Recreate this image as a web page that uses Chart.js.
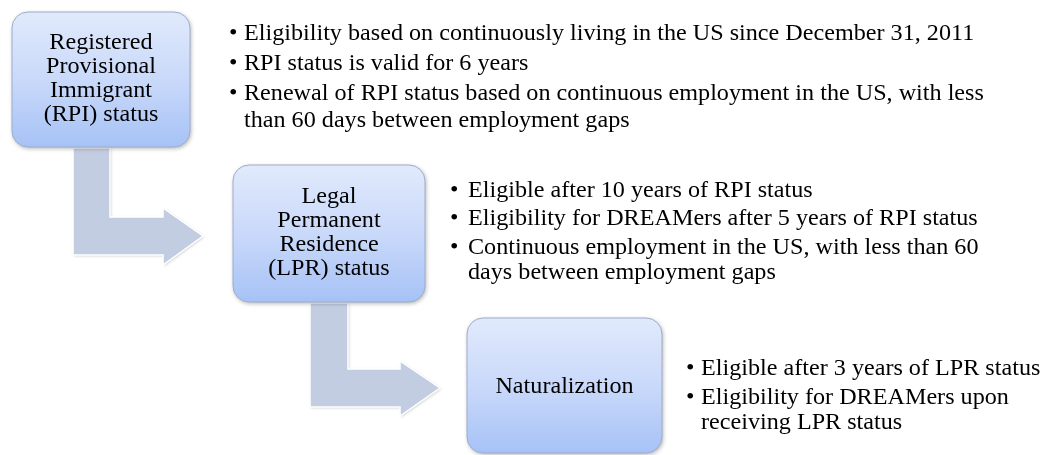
<!DOCTYPE html>
<html>
<head>
<meta charset="utf-8">
<script src="https://cdn.jsdelivr.net/npm/chart.js@4/dist/chart.umd.min.js"></script>
<style>
  html, body { margin: 0; padding: 0; background: #ffffff; }
  #wrap { width: 1047px; height: 455px; }
</style>
</head>
<body>
<div id="wrap"><canvas id="c" width="1047" height="455"></canvas></div>
<script>
// ---- Content (data) ----
const stageLabels = [
  ["Registered", "Provisional", "Immigrant", "(RPI) status"],
  ["Legal", "Permanent", "Residence", "(LPR) status"],
  ["Naturalization"]
];
const stageNotes1 = [
  ["Eligibility based on continuously living in the US since December 31, 2011"],
  ["RPI status is valid for 6 years"],
  ["Renewal of RPI status based on continuous employment in the US, with less", "than 60 days between employment gaps"]
];
const stageNotes2 = [
  ["Eligible after 10 years of RPI status"],
  ["Eligibility for DREAMers after 5 years of RPI status"],
  ["Continuous employment in the US, with less than 60", "days between employment gaps"]
];
const stageNotes3 = [
  ["Eligible after 3 years of LPR status"],
  ["Eligibility for DREAMers upon", "receiving LPR status"]
];
const stageNotes = [stageNotes1, stageNotes2, stageNotes3];

// ---- Layout (positions / sizes, in scale units) ----
const boxes = [
  { x0: 12,  x1: 190, y0: 12,  y1: 147 },
  { x0: 233, x1: 425, y0: 165, y1: 302 },
  { x0: 467, x1: 662, y0: 318, y1: 453 }
];
const labelOffsets = [5, 5, 7];
const arrows = [
  { sx0: 73,  sx1: 110, top: 148, bandTop: 217, bandBot: 255, headX: 163, headTop: 208, headBot: 265, tipX: 203 },
  { sx0: 310, sx1: 348, top: 303, bandTop: 369, bandBot: 407, headX: 400, headTop: 361, headBot: 416, tipX: 440 }
];
const noteLayout = [
  { bx: 229, tx: 244, baselines: [[40], [70], [100, 127]] },
  { bx: 450, tx: 468, baselines: [[197], [225], [254, 279]] },
  { bx: 686, tx: 701, baselines: [[375], [404, 429]] }
];
const FONT = '"Liberation Serif", "Times New Roman", serif';
const FONT_PX = 23;
const TEXT_SX = 1.05;

function stretchedText(ctx, t, x, y) {
  ctx.save();
  ctx.translate(x, y);
  ctx.scale(TEXT_SX, 1);
  ctx.fillText(t, 0, 0);
  ctx.restore();
}

const diagramPlugin = {
  id: 'diagram',
  afterDatasetsDraw(chart) {
    const ctx = chart.ctx;
    const X = v => chart.scales.x.getPixelForValue(v);
    const Y = v => chart.scales.y.getPixelForValue(v);

    // arrows
    arrows.forEach(a => {
      ctx.save();
      ctx.beginPath();
      ctx.moveTo(X(a.sx0), Y(a.top));
      ctx.lineTo(X(a.sx1), Y(a.top));
      ctx.lineTo(X(a.sx1), Y(a.bandTop));
      ctx.lineTo(X(a.headX), Y(a.bandTop));
      ctx.lineTo(X(a.headX), Y(a.headTop));
      ctx.lineTo(X(a.tipX), Y((a.bandTop + a.bandBot) / 2));
      ctx.lineTo(X(a.headX), Y(a.headBot));
      ctx.lineTo(X(a.headX), Y(a.bandBot));
      ctx.lineTo(X(a.sx0), Y(a.bandBot));
      ctx.closePath();
      ctx.shadowColor = 'rgba(0,0,0,0.22)';
      ctx.shadowBlur = 3;
      ctx.shadowOffsetX = 1;
      ctx.shadowOffsetY = 1;
      ctx.fillStyle = '#c3cde1';
      ctx.fill();
      ctx.shadowColor = 'transparent';
      ctx.strokeStyle = '#ffffff';
      ctx.lineWidth = 1.5;
      ctx.stroke();
      ctx.restore();
    });

    // boxes
    boxes.forEach((b, i) => {
      const x0 = X(b.x0), x1 = X(b.x1), y0 = Y(b.y0), y1 = Y(b.y1);
      const r = 16;
      ctx.save();
      ctx.beginPath();
      ctx.roundRect(x0, y0, x1 - x0, y1 - y0, r);
      const g = ctx.createLinearGradient(0, y0, 0, y1);
      g.addColorStop(0, '#e1eafc');
      g.addColorStop(0.5, '#c9d9fa');
      g.addColorStop(1, '#a6c2f6');
      ctx.shadowColor = 'rgba(0,0,0,0.30)';
      ctx.shadowBlur = 4;
      ctx.shadowOffsetX = 1;
      ctx.shadowOffsetY = 1.5;
      ctx.fillStyle = g;
      ctx.fill();
      ctx.shadowColor = 'transparent';
      ctx.strokeStyle = '#9eaccb';
      ctx.lineWidth = 1;
      ctx.stroke();
      ctx.restore();

      // labels
      const lines = stageLabels[i];
      const cx = (b.x0 + b.x1) / 2, cy = (b.y0 + b.y1) / 2;
      const lh = 24;
      ctx.save();
      ctx.fillStyle = '#000000';
      ctx.font = FONT_PX + 'px ' + FONT;
      ctx.textAlign = 'center';
      ctx.textBaseline = 'alphabetic';
      lines.forEach((t, k) => {
        const by = cy - (lines.length - 1) * lh / 2 + k * lh + labelOffsets[i];
        stretchedText(ctx, t, X(cx), Y(by));
      });
      ctx.restore();
    });

    // bullet notes
    stageNotes.forEach((notes, gi) => {
      const L = noteLayout[gi];
      ctx.save();
      ctx.fillStyle = '#000000';
      ctx.font = FONT_PX + 'px ' + FONT;
      ctx.textAlign = 'left';
      ctx.textBaseline = 'alphabetic';
      notes.forEach((item, ii) => {
        item.forEach((t, li) => {
          const by = L.baselines[ii][li];
          if (li === 0) stretchedText(ctx, '\u2022', X(L.bx), Y(by));
          stretchedText(ctx, t, X(L.tx), Y(by));
        });
      });
      ctx.restore();
    });
  }
};

new Chart(document.getElementById('c'), {
  type: 'scatter',
  data: { datasets: [{ data: [], pointRadius: 0 }] },
  options: {
    responsive: false,
    animation: false,
    events: [],
    layout: { padding: 0 },
    plugins: { legend: { display: false }, tooltip: { enabled: false } },
    scales: {
      x: { type: 'linear', min: 0, max: 1047, display: false },
      y: { type: 'linear', min: 0, max: 455, reverse: true, display: false }
    }
  },
  plugins: [diagramPlugin]
});
</script>
</body>
</html>
